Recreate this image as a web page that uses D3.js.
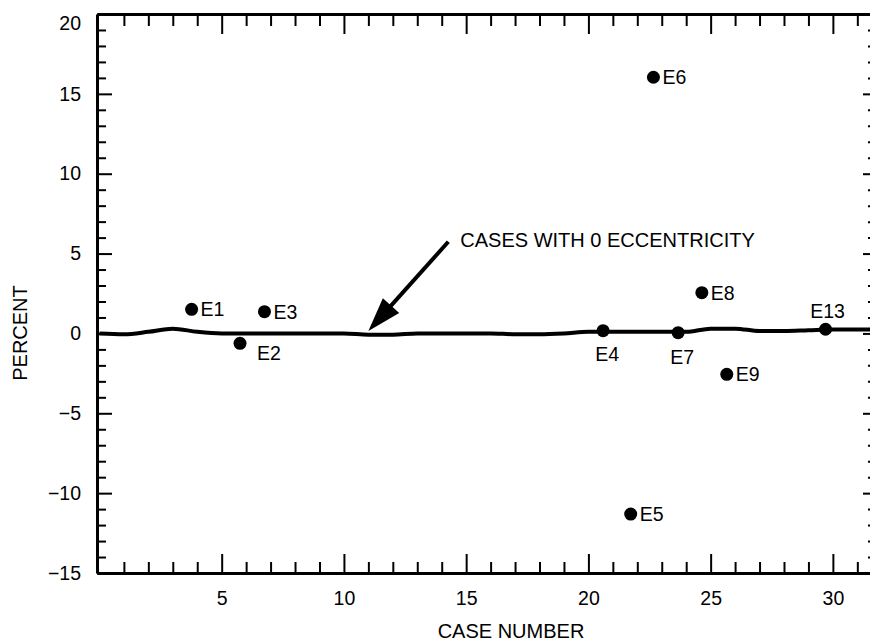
<!DOCTYPE html>
<html>
<head>
<meta charset="utf-8">
<script src="https://cdn.jsdelivr.net/npm/d3@7"></script>
<style>
  body { margin: 0; background: #fff; overflow: hidden; }
  svg { display: block; font-family: "Liberation Sans", Arial, Helvetica, sans-serif; }
  .axis path, .axis line { stroke: #000; }
  .axis text { fill: #000; font-size: 19.5px; }
</style>
</head>
<body>
<div id="chart"></div>
<script>
// eccentric cases (labelled points)
const caseNumbers = [3.77, 5.75, 6.75, 20.6, 21.73, 22.66, 23.67, 24.64, 25.66, 29.7];
const percents    = [1.51, -0.62, 1.36, 0.17, -11.31, 16.04, 0.05, 2.55, -2.56, 0.26];
const pointNames  = ["E1", "E2", "E3", "E4", "E5", "E6", "E7", "E8", "E9", "E13"];

// cases with 0 eccentricity (heavy line near zero)
const zeroCases    = [0, 1, 2, 3, 4, 5, 6, 7, 8, 9, 10, 11, 12, 13, 14, 15, 16, 17, 18, 19, 20, 21, 22, 23, 24, 25, 26, 27, 28, 29, 30, 31.6];
const zeroPercents = [0, -0.05, 0.1, 0.3, 0.1, 0, 0, 0, 0, 0, 0, -0.08, -0.08, 0, 0, 0, 0, -0.05, -0.05, 0, 0.1, 0.1, 0.1, 0.1, 0.1, 0.3, 0.3, 0.15, 0.15, 0.2, 0.25, 0.25];

// ticks
const xMajorTicks = [5, 10, 15, 20, 25, 30];
const xMinorTicks = [1, 2, 3, 4, 6, 7, 8, 9, 11, 12, 13, 14, 16, 17, 18, 19, 21, 22, 23, 24, 26, 27, 28, 29, 31];
const yMajorTicks = [-15, -10, -5, 0, 5, 10, 15, 20];
const yMinorTicks = [-14, -13, -12, -11, -9, -8, -7, -6, -4, -3, -2, -1, 1, 2, 3, 4, 6, 7, 8, 9, 11, 12, 13, 14, 16, 17, 18, 19];

const noteText = "CASES WITH 0 ECCENTRICITY";
const noteTip = [11, 0.15];
const noteTail = [14.27, 5.74];

const width = 870, height = 643;
const margin = { left: 97, right: 872, top: 14, bottom: 573 };
const rightEdge = 876; // right frame sits just past the picture

const svg = d3.select("#chart").append("svg")
    .attr("width", width)
    .attr("height", height);

const x = d3.scaleLinear().domain([-0.1, 31.6]).range([margin.left, margin.right]);
const y = d3.scaleLinear().domain([-15, 20]).range([margin.bottom, margin.top]);

// minor ticks first (no labels)
function minor(axis, g) {
    g.call(axis.tickFormat(""));
    g.select(".domain").remove();
    g.selectAll("line").attr("stroke-width", 2);
}

minor(d3.axisBottom(x).tickValues(xMinorTicks).tickSize(-11).tickSizeOuter(0),
    svg.append("g").attr("class", "axis").attr("transform", `translate(0,${margin.bottom})`));
minor(d3.axisTop(x).tickValues(xMinorTicks).tickSize(-12).tickSizeOuter(0),
    svg.append("g").attr("class", "axis").attr("transform", `translate(0,${margin.top})`));
minor(d3.axisLeft(y).tickValues(yMinorTicks).tickSize(-9).tickSizeOuter(0),
    svg.append("g").attr("class", "axis").attr("transform", `translate(${margin.left},0)`));
minor(d3.axisRight(y).tickValues(yMinorTicks).tickSize(-8).tickSizeOuter(0),
    svg.append("g").attr("class", "axis").attr("transform", `translate(${rightEdge},0)`));

// major axes
const xAxis = svg.append("g").attr("class", "axis")
    .attr("transform", `translate(0,${margin.bottom})`)
    .call(d3.axisBottom(x).tickValues(xMajorTicks).tickSize(-19).tickSizeOuter(0).tickPadding(18));

const xTop = svg.append("g").attr("class", "axis")
    .attr("transform", `translate(0,${margin.top})`)
    .call(d3.axisTop(x).tickValues(xMajorTicks).tickSize(-20).tickSizeOuter(0).tickFormat(""));

const yAxis = svg.append("g").attr("class", "axis")
    .attr("transform", `translate(${margin.left},0)`)
    .call(d3.axisLeft(y).tickValues(yMajorTicks).tickSize(-15).tickSizeOuter(0).tickPadding(16));

const yRight = svg.append("g").attr("class", "axis")
    .attr("transform", `translate(${rightEdge},0)`)
    .call(d3.axisRight(y).tickValues(yMajorTicks).tickSize(-13).tickSizeOuter(0).tickFormat(""));

svg.selectAll(".axis .tick line").attr("stroke-width", 2);
svg.selectAll(".axis .domain").attr("stroke-width", 3);

// top label sits a bit lower in the original
yAxis.selectAll(".tick text").filter(d => d === 20).attr("dy", "0.8em");

// zero-eccentricity line
const line = d3.line()
    .x((d, i) => x(zeroCases[i]))
    .y(d => y(d))
    .curve(d3.curveMonotoneX);

svg.append("path")
    .datum(zeroPercents)
    .attr("d", line)
    .attr("fill", "none")
    .attr("stroke", "#000")
    .attr("stroke-width", 4);

// points
const points = caseNumbers.map((c, i) => ({ c: c, p: percents[i], name: pointNames[i] }));

svg.selectAll(".pt")
    .data(points)
    .enter().append("circle")
    .attr("class", "pt")
    .attr("cx", d => x(d.c))
    .attr("cy", d => y(d.p))
    .attr("r", 6.5)
    .attr("fill", "#000");

// label placement per point
const place = {
    E2: { dx: 17, dy: 10, anchor: "start" },
    E4: { dx: 4, dy: 23, anchor: "middle" },
    E7: { dx: 4, dy: 24, anchor: "middle" },
    E13: { dx: 2, dy: -18, anchor: "middle" }
};

svg.selectAll(".lbl")
    .data(points)
    .enter().append("text")
    .attr("class", "lbl")
    .attr("x", d => x(d.c) + (place[d.name] ? place[d.name].dx : 9))
    .attr("y", d => y(d.p) + (place[d.name] ? place[d.name].dy : 0))
    .attr("dy", "0.36em")
    .attr("text-anchor", d => place[d.name] ? place[d.name].anchor : "start")
    .attr("font-size", 19.5)
    .text(d => d.name);

// annotation arrow
const tip = [x(noteTip[0]), y(noteTip[1])];
const tail = [x(noteTail[0]), y(noteTail[1])];
const len = Math.hypot(tip[0] - tail[0], tip[1] - tail[1]);
const ux = (tip[0] - tail[0]) / len, uy = (tip[1] - tail[1]) / len;
const headLen = 34, headHalf = 11;
const base = [tip[0] - ux * headLen, tip[1] - uy * headLen];

svg.append("line")
    .attr("x1", tail[0]).attr("y1", tail[1])
    .attr("x2", base[0] + ux * 2).attr("y2", base[1] + uy * 2)
    .attr("stroke", "#000")
    .attr("stroke-width", 4);

svg.append("path")
    .attr("d", `M${tip[0]},${tip[1]}L${base[0] - uy * headHalf},${base[1] + ux * headHalf}L${base[0] + uy * headHalf},${base[1] - ux * headHalf}Z`)
    .attr("fill", "#000");

svg.append("text")
    .attr("x", x(14.76))
    .attr("y", y(5.85))
    .attr("dy", "0.36em")
    .attr("font-size", 20)
    .text(noteText);

// axis titles
svg.append("text")
    .attr("x", 511)
    .attr("y", 638)
    .attr("text-anchor", "middle")
    .attr("font-size", 20)
    .text("CASE NUMBER");

svg.append("text")
    .attr("transform", "translate(27,333) rotate(-90)")
    .attr("text-anchor", "middle")
    .attr("font-size", 20)
    .text("PERCENT");
</script>
</body>
</html>
